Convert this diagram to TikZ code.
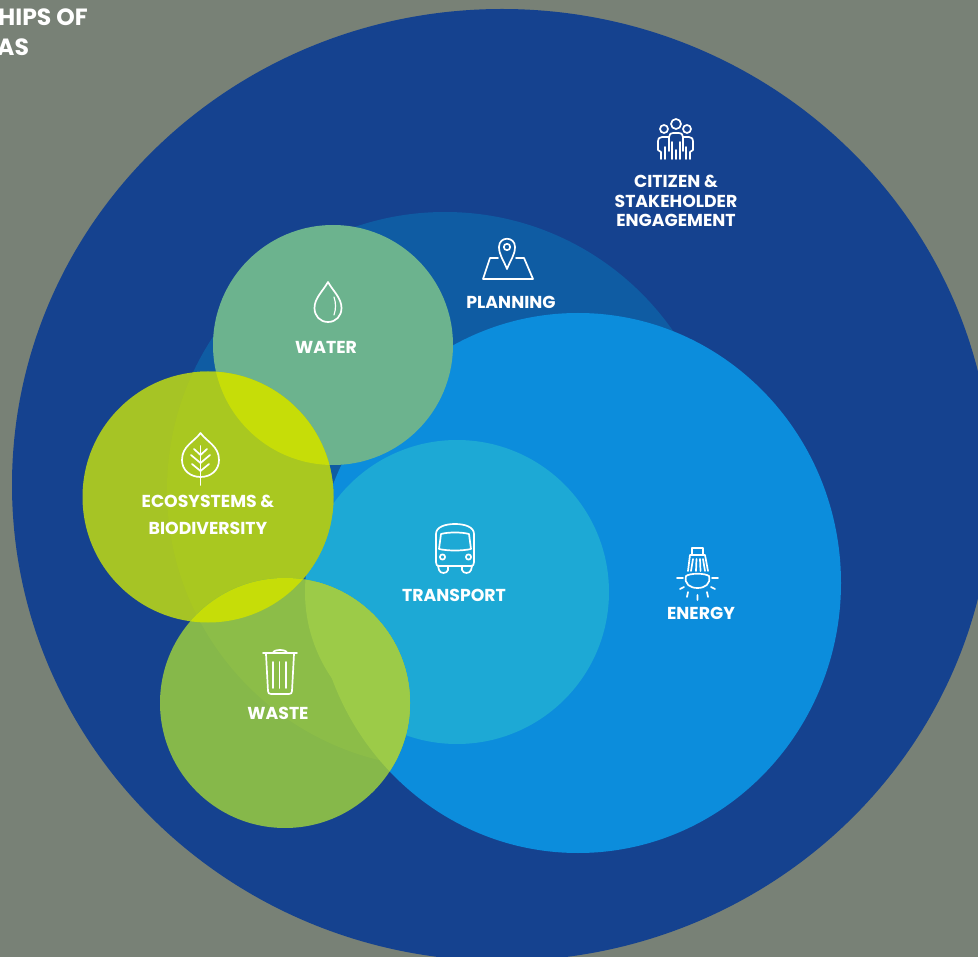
\documentclass[tikz,border=0pt]{standalone}
\usepackage{fontspec}
\setmainfont{Poppins}
\definecolor{bggrey}{HTML}{788176}
\definecolor{bigblue}{HTML}{15428F}
\definecolor{planblue}{HTML}{0F5CA3}
\definecolor{energyblue}{HTML}{0C8DDC}
\definecolor{transblue}{HTML}{1DA9D5}
\definecolor{waterg}{HTML}{6CB38E}
\definecolor{ecog}{HTML}{A9C820}
\definecolor{ecoplan}{HTML}{A6C425}
\definecolor{ecowater}{HTML}{C6DD08}
\definecolor{wasteg}{HTML}{86B84A}
\definecolor{wasteplan}{HTML}{8CBD48}
\definecolor{wastelight}{HTML}{9CCB48}
\tikzset{
  lbl/.style={text=white,font=\fontsize{17.3}{19.5}\selectfont\bfseries,align=center,inner sep=0pt},
  headlbl/.style={lbl,anchor=west,font=\fontsize{23.5}{28}\selectfont\bfseries},
  ico/.style={draw=white,line width=1.7pt,line join=round,line cap=round,fill=none}
}
\def\cbig{(502,485) ellipse (490 and 476)}
\def\cplan{(445,490) circle (278)}
\def\cenergy{(578,583) ellipse (263 and 270)}
\def\ctrans{(457,592) circle (152)}
\def\cwater{(333,345) circle (120)}
\def\ceco{(208,497) circle (125.5)}
\def\cwaste{(285,703) circle (125)}
\begin{document}
\begin{tikzpicture}[x=1pt,y=-1pt]
\useasboundingbox (0,0) rectangle (978,957);
\fill[bggrey] (0,0) rectangle (978,957);
\begin{scope}
\clip (0,0) rectangle (978,957);
\fill[bigblue] \cbig;
\fill[planblue] \cplan;
\fill[energyblue] \cenergy;
\fill[transblue] \ctrans;
\fill[waterg] \cwater;
\fill[ecoplan] \ceco;
\begin{scope}\clip \ceco; \fill[ecog] \cplan; \fill[ecowater] \cwater; \end{scope}
\fill[wasteg] \cwaste;
\begin{scope}\clip \cwaste; \fill[wasteplan] \cplan; \fill[wastelight] \cenergy; \fill[wastelight] \ctrans; \fill[ecowater] \ceco; \end{scope}
\end{scope}
% top-left clipped heading
\node[headlbl] (headA) at (-2,17) {HIPS OF};
\node[headlbl] (headB) at (-3,47) {AS};
% labels
\node[lbl] (citizen) at (676,201) {CITIZEN \&\\STAKEHOLDER\\ENGAGEMENT};
\node[lbl] (planning) at (511,302) {PLANNING};
\node[lbl] (water) at (326,347) {WATER};
\node[lbl,font=\fontsize{17.3}{27}\selectfont\bfseries] (eco) at (208,515) {ECOSYSTEMS \&\\BIODIVERSITY};
\node[lbl] (transport) at (454,595) {TRANSPORT};
\node[lbl] (energy) at (701,613) {ENERGY};
\node[lbl] (waste) at (278,713) {WASTE};
% citizens icon
\draw[ico] (676,124) circle (5);
\draw[ico] (664,129) circle (4);
\draw[ico] (687,129) circle (4);
\draw[ico] (669,151) -- (669,137) .. controls (669,134) and (671,133) .. (673,133) -- (679,133) .. controls (681,133) and (683,134) .. (683,137) -- (683,151);
\draw[ico] (672,142) -- (672,159) (676,150) -- (676,159) (680,142) -- (680,159);
\draw[ico] (669,137) -- (662,137) .. controls (659,137) and (658,139) .. (658,141) -- (658,150) -- (661,152) -- (661,159);
\draw[ico] (683,137) -- (689,137) .. controls (692,137) and (693,139) .. (693,141) -- (693,150) -- (690,152) -- (690,159);
\draw[ico] (665,147) -- (665,159) (686,147) -- (686,159);
% planning icon
\draw[ico] (498,258) -- (490,258) -- (483,279) -- (533,279) -- (524,258) -- (516,258);
\draw[ico] (507,269) .. controls (504,261) and (499,255) .. (499,247) .. controls (499,236) and (515,236) .. (515,247) .. controls (515,255) and (510,261) .. (507,269) -- cycle;
\draw[ico] (507,247) circle (3.2);
% water icon
\draw[ico] (328,282) .. controls (323,291) and (314.5,298) .. (314.5,308) .. controls (314.5,316) and (320,322) .. (328,322) .. controls (336,322) and (341.5,316) .. (341.5,308) .. controls (341.5,298) and (333,291) .. (328,282) -- cycle;
\draw[ico,line width=1.2pt] (334,297) .. controls (336,303) and (336,309) .. (334,315);
% leaf icon
\draw[ico] (200.5,433) .. controls (194,442) and (182,446) .. (182,460) .. controls (182,470) and (190,477) .. (200.5,477) .. controls (211,477) and (219,470) .. (219,460) .. controls (219,446) and (207,442) .. (200.5,433) -- cycle;
\draw[ico] (200.5,446) -- (200.5,485);
\draw[ico] (200.5,455) -- (194,449) (200.5,455) -- (207,449) (200.5,463) -- (191,455) (200.5,463) -- (210,455) (200.5,471) -- (192,464) (200.5,471) -- (209,464);
% bus icon
\draw[ico] (436,534) .. controls (436,527) and (445,524) .. (455,524) .. controls (465,524) and (474,527) .. (474,534) -- (474,562) .. controls (474,565) and (473,566) .. (471,566) -- (439,566) .. controls (437,566) and (436,565) .. (436,562) -- cycle;
\draw[ico] (441,534) .. controls (448,532) and (462,532) .. (469,534) -- (471,549) .. controls (462,551) and (448,551) .. (439,549) -- cycle;
\draw[ico] (442.5,557) circle (2.6);
\draw[ico] (468.5,557) circle (2.6);
\draw[ico] (438,566) -- (439,570) .. controls (440,574) and (447,574) .. (448,570) -- (448,566);
\draw[ico] (472,566) -- (471,570) .. controls (470,574) and (463,574) .. (462,570) -- (462,566);
% lamp icon
\draw[ico] (692,555) -- (692,548) -- (703,548) -- (703,555);
\draw[ico] (690,555) -- (705,555) -- (708,571) (690,555) -- (688,571);
\draw[ico] (693,559) -- (691,571) (696.5,559) -- (696,571) (700,559) -- (700.5,571) (703,559) -- (705,571);
\draw[ico] (686,576) .. controls (690,573) and (705,573) .. (709,576) .. controls (711,584) and (705,588) .. (697.5,588) .. controls (690,588) and (684,584) .. (686,576) -- cycle;
\draw[ico] (677,578) -- (683,578) (712,578) -- (718,578) (680,589) -- (684,587) (711,587) -- (715,589) (688,592) -- (687,597) (707,592) -- (708,597) (697.5,595) -- (697.5,600);
% bin icon
\draw[ico] (263,653) -- (297,653);
\draw[ico] (273,653) .. controls (273,649) and (287,649) .. (287,653);
\draw[ico] (266,654) -- (268,691) .. controls (268,693) and (269,694) .. (271,694) -- (289,694) .. controls (291,694) and (292,693) .. (292,691) -- (294,654);
\draw[ico] (273,662) -- (273,688) (279.5,662) -- (279.5,688) (286,662) -- (286,688);
\end{tikzpicture}
\end{document}
